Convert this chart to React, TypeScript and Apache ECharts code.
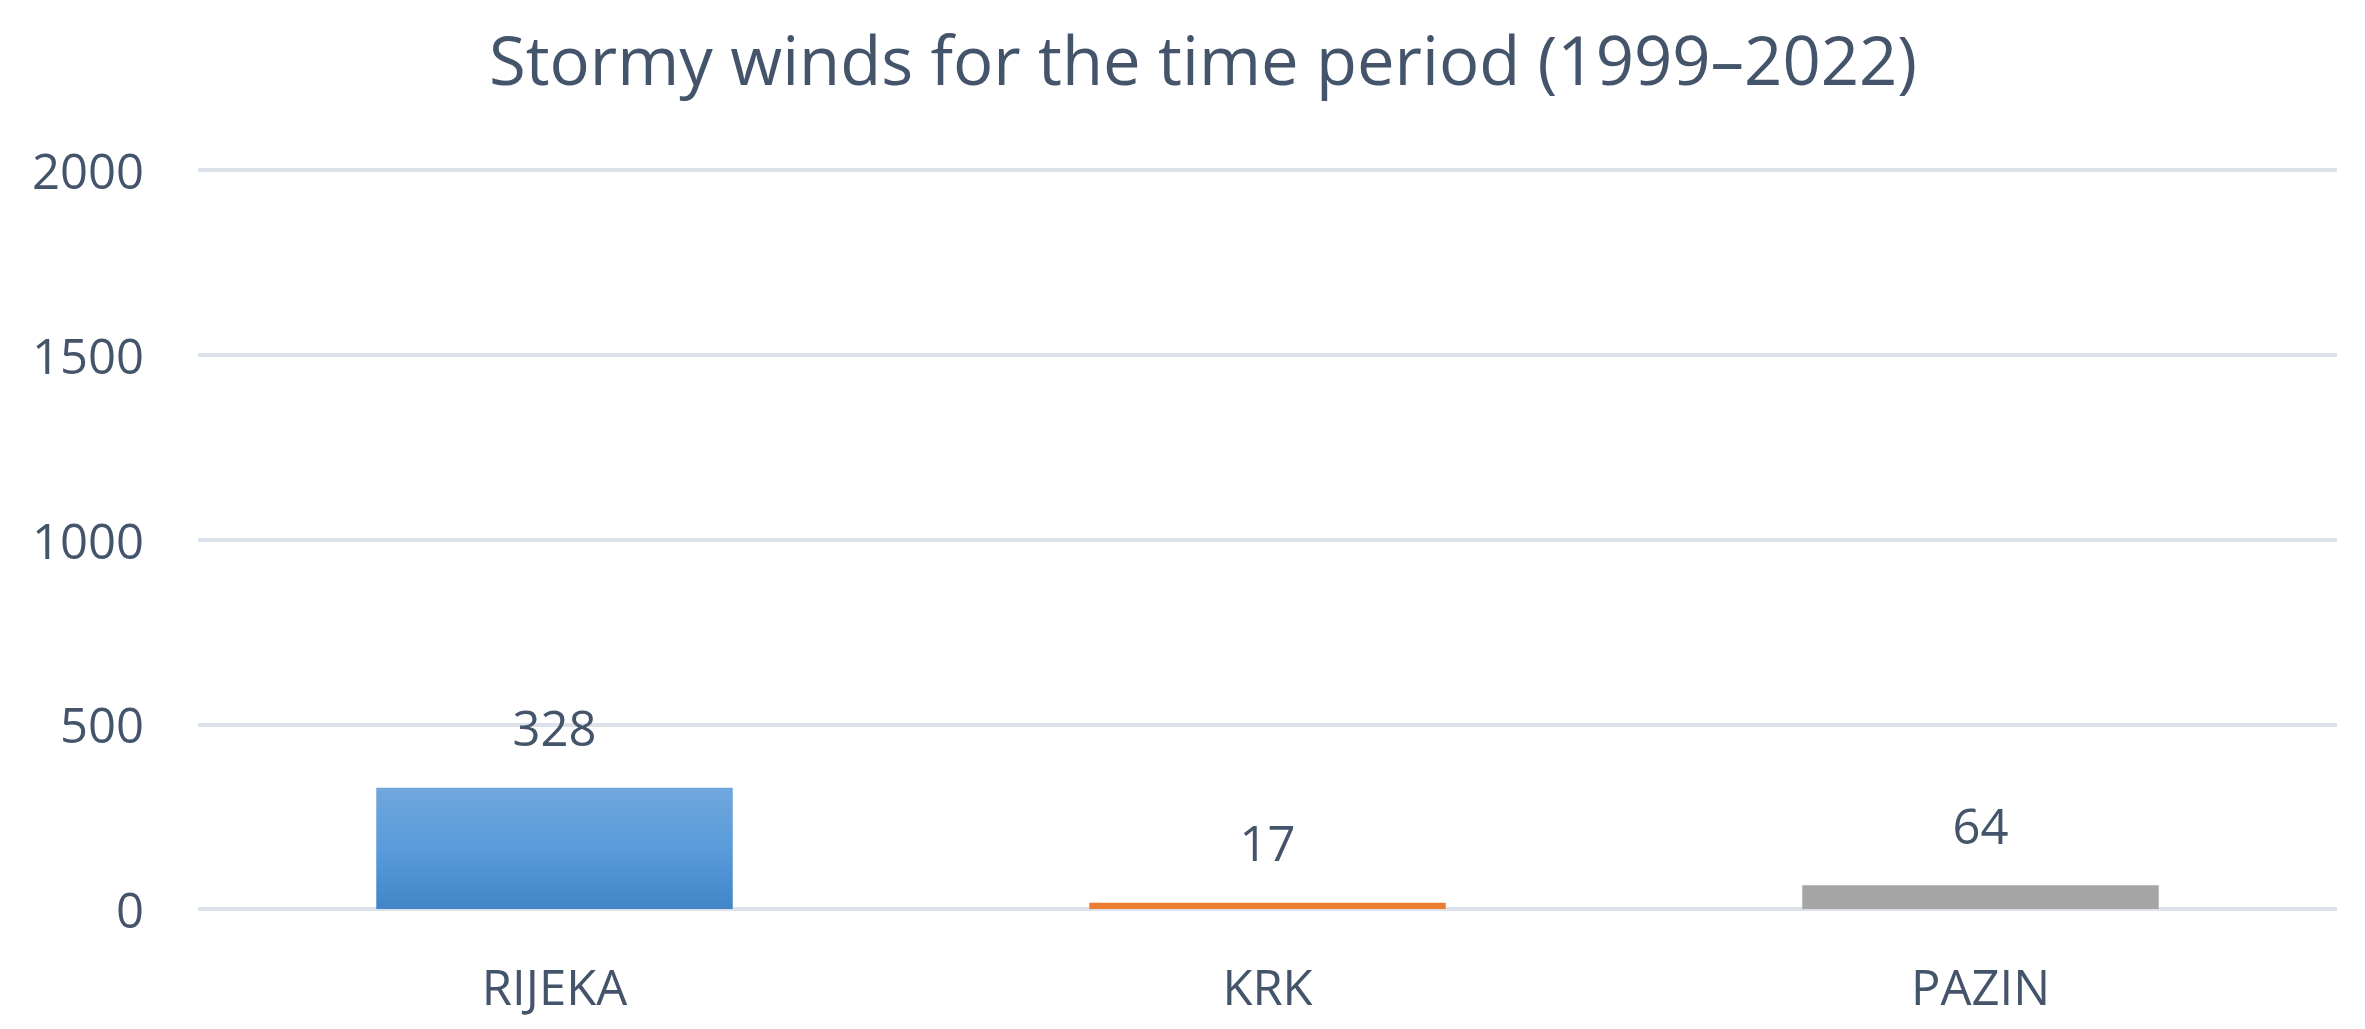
import React, { useEffect, useRef } from "react";
import * as echarts from "echarts";

const titleText = "Stormy winds for the time period (1999–2022)";
const categories = ["RIJEKA", "KRK", "PAZIN"];
const values = [328, 17, 64];
const yTicks = [0, 500, 1000, 1500, 2000];

const TEXT = "#44546A";
const FONT = "'Open Sans', 'Noto Sans', sans-serif";

export default function App() {
  const ref = useRef<HTMLDivElement>(null);
  useEffect(() => {
    if (!ref.current) return;
    const chart = echarts.init(ref.current, null, { renderer: "svg" });
    const barColors: any[] = [
      new echarts.graphic.LinearGradient(0, 0, 0, 1, [
        { offset: 0, color: "#71A7DD" },
        { offset: 0.5, color: "#599BDB" },
        { offset: 1, color: "#4286C8" },
      ]),
      "#ED7D31",
      "#A5A5A5",
    ];
    chart.setOption({
      animation: false,
      backgroundColor: "#ffffff",
      textStyle: { fontFamily: FONT },
      title: {
        text: titleText,
        left: 1198,
        textAlign: "center",
        top: 20,
        textStyle: { fontFamily: FONT, fontSize: 67, fontWeight: "normal", color: TEXT },
      },
      grid: { left: 198, right: 28, top: 170, bottom: 120, containLabel: false },
      xAxis: {
        type: "category",
        data: categories,
        axisLine: { show: false },
        axisTick: { show: false },
        axisLabel: { color: TEXT, fontSize: 49, fontFamily: FONT, margin: 52 },
      },
      yAxis: {
        type: "value",
        min: yTicks[0],
        max: yTicks[yTicks.length - 1],
        interval: 500,
        axisLine: { show: false },
        axisTick: { show: false },
        axisLabel: {
          color: TEXT,
          fontSize: 49,
          fontFamily: FONT,
          margin: 54,
          formatter: (v: number) => String(v),
        },
        splitLine: { lineStyle: { color: "#DDE2EA", width: 4 } },
      },
      series: [
        {
          type: "bar",
          barWidth: "50%",
          data: values.map((v, i) => ({ value: v, itemStyle: { color: barColors[i] } })),
          label: {
            show: true,
            position: "top",
            distance: 36,
            color: TEXT,
            fontSize: 49,
            fontFamily: FONT,
          },
        },
      ],
    });
    return () => chart.dispose();
  }, []);
  return (
    <div
      ref={ref}
      style={{ position: "fixed", left: 0, top: 0, width: 2365, height: 1029, background: "#fff" }}
    />
  );
}
